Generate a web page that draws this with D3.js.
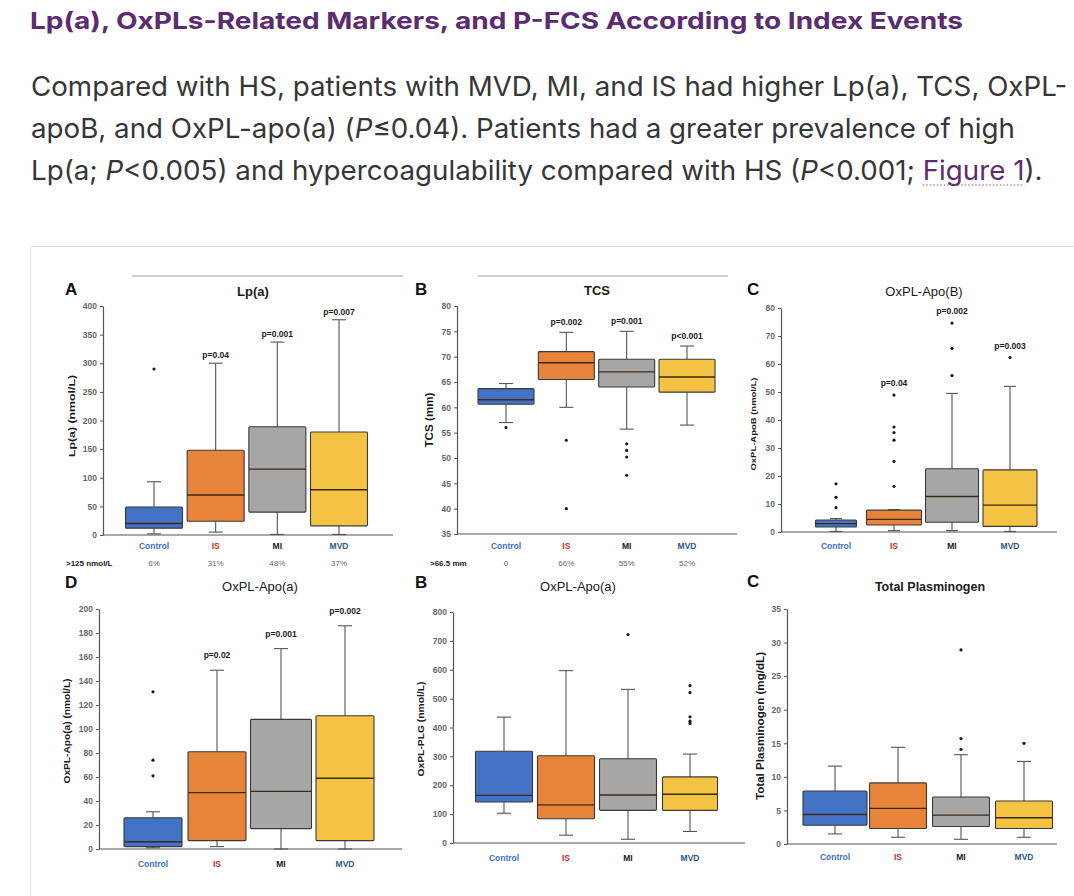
<!DOCTYPE html>
<html><head><meta charset="utf-8">
<script src="https://cdn.jsdelivr.net/npm/d3@7"></script>
<style>html,body{margin:0;padding:0;background:#fff;overflow:hidden}</style>
</head><body>
<svg id="chart" width="1074" height="896"></svg>
<script>
// ---------------- DATA ----------------
const categories = ["Control", "IS", "MI", "MVD"];

// Lp(a): [low whisker, Q1, median, Q3, high whisker]
const lpaTicks = [0, 50, 100, 150, 200, 250, 300, 350, 400];
const lpaStats = [[2, 12, 20, 49, 93], [5, 24, 70, 148, 300], [1, 40, 115, 189, 337], [1, 16, 79, 180, 376]];
const lpaOutliers = [[290], [], [], []];
const lpaP = ["", "p=0.04", "p=0.001", "p=0.007"];
const lpaPct = ["6%", "31%", "48%", "37%"];

// TCS
const tcsTicks = [35, 40, 45, 50, 55, 60, 65, 70, 75, 80];
const tcsStats = [[57, 60.6, 61.5, 63.7, 64.7], [60, 65.5, 68.8, 71, 74.8], [55.7, 64, 67, 69.5, 75], [56.5, 63, 66, 69.5, 72.1]];
const tcsOutliers = [[56], [53.5, 40], [52.8, 51.5, 50.2, 46.6], []];
const tcsP = ["", "p=0.002", "p=0.001", "p<0.001"];
const tcsPct = ["0", "66%", "55%", "52%"];

// OxPL-ApoB
const apobTicks = [0, 10, 20, 30, 40, 50, 60, 70, 80];
const apobStats = [[0.2, 1.8, 3, 4.3, 4.8], [0.5, 2.5, 4.5, 7.8, 8], [0.5, 3.5, 12.7, 22.6, 49.5], [0.2, 2, 9.6, 22.2, 52]];
const apobOutliers = [[8.7, 12.4, 17.2], [16.3, 25.2, 32.8, 35.5, 37.5, 48.9], [55.9, 65.6, 74.6], [62.3]];
const apobP = ["", "p=0.04", "p=0.002", "p=0.003"];

// OxPL-Apo(a)
const apoaTicks = [0, 20, 40, 60, 80, 100, 120, 140, 160, 180, 200];
const apoaStats = [[1, 2, 6, 26, 31], [2, 7, 47, 81, 149], [0, 17, 48, 108, 167], [0, 7, 59, 111, 186]];
const apoaOutliers = [[61, 74, 131], [], [], []];
const apoaP = ["", "p=0.02", "p=0.001", "p=0.002"];

// OxPL-PLG
const plgTicks = [0, 100, 200, 300, 400, 500, 600, 700, 800];
const plgStats = [[103, 142, 165, 318, 436], [27, 84, 132, 302, 597], [13, 113, 166, 292, 532], [40, 113, 169, 229, 308]];
const plgOutliers = [[], [], [722], [414, 422, 437, 521, 545]];
const plgP = ["", "", "", ""];

// Total Plasminogen
const tpTicks = [0, 5, 10, 15, 20, 25, 30, 35];
const tpStats = [[1.5, 2.8, 4.4, 7.9, 11.6], [1, 2.3, 5.3, 9.1, 14.4], [0.7, 2.6, 4.3, 7, 13.3], [1, 2.3, 3.9, 6.4, 12.3]];
const tpOutliers = [[], [], [14.1, 15.7, 28.9], [15]];
const tpP = ["", "", "", ""];

// ---------------- TEXT ----------------
const headingText = "Lp(a), OxPLs-Related Markers, and P-FCS According to Index Events";
const paraLines = [
  [["Compared with HS, patients with MVD, MI, and IS had higher Lp(a), TCS, OxPL-", "n"]],
  [["apoB, and OxPL-apo(a) (", "n"], ["P", "i"], ["≤0.04). Patients had a greater prevalence of high", "n"]],
  [["Lp(a; ", "n"], ["P", "i"], ["<0.005) and hypercoagulability compared with HS (", "n"], ["P", "i"], ["<0.001; ", "n"], ["Figure 1", "l"], [").", "n"]]
];

// ---------------- STYLE ----------------
const fillColors = ["#4472C4", "#E8833A", "#A6A6A6", "#F5C343"];
const catColors = ["#3F6FC6", "#C8312B", "#1a1a1a", "#2D5A86"];
const FONT = "'Liberation Sans', Arial, sans-serif";

const svg = d3.select("#chart");

// header
const heading = svg.append("text").attr("x", 30).attr("y", 29)
  .attr("font-family", "Inter, 'Noto Sans', sans-serif").attr("font-weight", 700)
  .attr("font-size", 23.5).attr("fill", "#5B2C6F").text(headingText);
heading.attr("textLength", 933).attr("lengthAdjust", "spacingAndGlyphs");

const paraBase = [96, 138, 180];
const paraNodes = paraLines.map((line, i) => {
  const t = svg.append("text").attr("x", 31).attr("y", paraBase[i])
    .attr("font-family", "Inter, 'Noto Sans', sans-serif").attr("font-size", 27).attr("fill", "#363636");
  line.forEach(([s, k]) => {
    const ts = t.append("tspan").text(s);
    if (k === "i") ts.attr("font-style", "italic");
    if (k === "l") ts.attr("fill", "#5B2C6F").attr("class", "lnk");
  });
  return t;
});
// fit widths
const w2 = paraNodes[1].node().getComputedTextLength();
const ratio = 984 / w2;
paraNodes.forEach((t, i) => {
  const w = t.node().getComputedTextLength();
  t.attr("textLength", w * ratio).attr("lengthAdjust", "spacingAndGlyphs");
});
// dotted underline for link
(function () {
  const ln = paraNodes[2].select(".lnk").node();
  try {
    const n = ln.getNumberOfChars();
    const s = ln.getStartPositionOfChar(0).x;
    const e = ln.getEndPositionOfChar(n - 1).x;
    svg.append("line").attr("x1", s).attr("x2", e).attr("y1", 185).attr("y2", 185)
      .attr("stroke", "#7a5a8a").attr("stroke-width", 1.2).attr("stroke-dasharray", "1.5,2");
  } catch (err) {}
})();

// figure container
svg.append("rect").attr("x", 30.5).attr("y", 246.5).attr("width", 1100).attr("height", 700)
  .attr("fill", "#fff").attr("stroke", "#e6e6e6").attr("stroke-width", 1);

const panels = [
  { letter: "A", lx: 65, ly: 295, title: "Lp(a)", tx: 253, ty: 296, tsize: 13, tweight: 700,
    ylabel: "Lp(a) (nmol/L)", ylx: 72.5, yly: 416, ylsize: 9.5, yllen: 82,
    ax: 103, axEnd: 393, yr: [535, 306], dom: [0, 400], pts: [154, 339], boxW: [57, 57, 57, 57], capW: 14,
    catY: 547, pOff: 5, ticks: lpaTicks, stats: lpaStats, out: lpaOutliers, p: lpaP,
    rowLabel: ">125 nmol/L", rowX: 66, rowY: 564, pct: lpaPct, topLine: [132, 403, 276] },
  { letter: "B", lx: 415, ly: 295, title: "TCS", tx: 597, ty: 295, tsize: 13, tweight: 700,
    ylabel: "TCS (mm)", ylx: 430, yly: 420, ylsize: 10, yllen: 55,
    ax: 457, axEnd: 737, yr: [534, 306], dom: [35, 80], pts: [506, 687], boxW: [56, 56, 56, 56], capW: 14,
    catY: 547, pOff: 7, ticks: tcsTicks, stats: tcsStats, out: tcsOutliers, p: tcsP,
    rowLabel: ">66.5 mm", rowX: 430, rowY: 564, pct: tcsPct, topLine: [478, 728, 276] },
  { letter: "C", lx: 747, ly: 295, title: "OxPL-Apo(B)", tx: 924, ty: 296, tsize: 13, tweight: 500,
    ylabel: "OxPL-ApoB (nmol/L)", ylx: 754, yly: 424, ylsize: 8, yllen: 93,
    ax: 781, axEnd: 1057, yr: [532, 308], dom: [0, 80], pts: [836, 1010], boxW: [41, 55, 53, 54], capW: 12,
    catY: 547, pOff: 9, ticks: apobTicks, stats: apobStats, out: apobOutliers, p: apobP },
  { letter: "D", lx: 65, ly: 588, title: "OxPL-Apo(a)", tx: 260, ty: 591, tsize: 13, tweight: 500,
    ylabel: "OxPL-Apo(a) (nmol/L)", ylx: 68, yly: 731, ylsize: 8.5, yllen: 105,
    ax: 99, axEnd: 402, yr: [849, 609], dom: [0, 200], pts: [153, 345], boxW: [58, 58, 61, 58], capW: 14,
    catY: 865, pOff: 12, ticks: apoaTicks, stats: apoaStats, out: apoaOutliers, p: apoaP },
  { letter: "B", lx: 415, ly: 588, title: "OxPL-Apo(a)", tx: 578, ty: 591, tsize: 13, tweight: 500,
    ylabel: "OxPL-PLG (nmol/L)", ylx: 422, yly: 729, ylsize: 8.5, yllen: 95,
    ax: 453, axEnd: 745, yr: [843, 612], dom: [0, 800], pts: [504, 690], boxW: [57, 57, 57, 55], capW: 14,
    catY: 859, pOff: 8, ticks: plgTicks, stats: plgStats, out: plgOutliers, p: plgP },
  { letter: "C", lx: 747, ly: 587, title: "Total Plasminogen", tx: 930, ty: 591, tsize: 12.5, tweight: 700,
    ylabel: "Total Plasminogen (mg/dL)", ylx: 761, yly: 726, ylsize: 11, yllen: 148,
    ax: 787, axEnd: 1057, yr: [844, 609], dom: [0, 35], pts: [835, 1024], boxW: [64, 57, 57, 57], capW: 14,
    catY: 858, pOff: 8, ticks: tpTicks, stats: tpStats, out: tpOutliers, p: tpP }
];

function drawPanel(cfg) {
  const g = svg.append("g").attr("font-family", FONT);
  const y = d3.scaleLinear().domain(cfg.dom).range(cfg.yr);
  const x = d3.scalePoint().domain(categories).range(cfg.pts);

  if (cfg.topLine) {
    g.append("line").attr("x1", cfg.topLine[0]).attr("x2", cfg.topLine[1])
      .attr("y1", cfg.topLine[2]).attr("y2", cfg.topLine[2]).attr("stroke", "#a0a0a0").attr("stroke-width", 1);
  }
  g.append("text").attr("x", cfg.lx).attr("y", cfg.ly).attr("font-size", 17).attr("font-weight", 700)
    .attr("fill", "#111").text(cfg.letter);
  g.append("text").attr("x", cfg.tx).attr("y", cfg.ty).attr("text-anchor", "middle")
    .attr("font-size", cfg.tsize).attr("font-weight", cfg.tweight).attr("fill", "#1a1a1a").text(cfg.title);

  // y axis
  const axis = d3.axisLeft(y).tickValues(cfg.ticks).tickSize(3).tickSizeOuter(0).tickPadding(3);
  const ag = g.append("g").attr("transform", `translate(${cfg.ax},0)`).call(axis);
  ag.select(".domain").attr("stroke", "#555").attr("stroke-width", 1.2);
  ag.selectAll(".tick line").attr("stroke", "#555");
  ag.selectAll(".tick text").attr("font-size", 8.5).attr("font-weight", 700).attr("fill", "#666")
    .attr("font-family", FONT);

  // x axis line
  g.append("line").attr("x1", cfg.ax).attr("x2", cfg.axEnd).attr("y1", y(cfg.dom[0])).attr("y2", y(cfg.dom[0]))
    .attr("stroke", "#555").attr("stroke-width", 1.2);

  // y label
  g.append("text").attr("transform", `translate(${cfg.ylx},${cfg.yly}) rotate(-90)`)
    .attr("text-anchor", "middle").attr("dominant-baseline", "middle")
    .attr("font-size", cfg.ylsize).attr("font-weight", 700).attr("fill", "#1a1a1a")
    .attr("textLength", cfg.yllen).attr("lengthAdjust", "spacingAndGlyphs").text(cfg.ylabel);

  categories.forEach((c, i) => {
    const [lo, q1, md, q3, hi] = cfg.stats[i];
    const cx = x(c), w = cfg.boxW[i], cw = cfg.capW;
    const wg = g.append("g").attr("stroke", "#555").attr("stroke-width", 1.1);
    wg.append("line").attr("x1", cx).attr("x2", cx).attr("y1", y(lo)).attr("y2", y(q1));
    wg.append("line").attr("x1", cx).attr("x2", cx).attr("y1", y(q3)).attr("y2", y(hi));
    wg.append("line").attr("x1", cx - cw / 2).attr("x2", cx + cw / 2).attr("y1", y(lo)).attr("y2", y(lo));
    wg.append("line").attr("x1", cx - cw / 2).attr("x2", cx + cw / 2).attr("y1", y(hi)).attr("y2", y(hi));
    g.append("rect").attr("x", cx - w / 2).attr("y", y(q3)).attr("width", w).attr("height", y(q1) - y(q3))
      .attr("fill", fillColors[i]).attr("stroke", "#3a3a3a").attr("stroke-width", 1.1).attr("rx", 1);
    g.append("line").attr("x1", cx - w / 2).attr("x2", cx + w / 2).attr("y1", y(md)).attr("y2", y(md))
      .attr("stroke", "#3a2a1a").attr("stroke-width", 1.4);
    cfg.out[i].forEach(v => {
      g.append("circle").attr("cx", cx).attr("cy", y(v)).attr("r", 1.6).attr("fill", "#1a1a1a");
    });
    if (cfg.p[i]) {
      const top = Math.max(hi, ...cfg.out[i]);
      g.append("text").attr("x", cx).attr("y", y(top) - cfg.pOff).attr("text-anchor", "middle")
        .attr("font-size", 8.5).attr("font-weight", 700).attr("fill", "#1a1a1a").text(cfg.p[i]);
    }
    g.append("text").attr("x", cx).attr("y", cfg.catY).attr("text-anchor", "middle").attr("dominant-baseline", "middle")
      .attr("font-size", 8.5).attr("font-weight", 700).attr("fill", catColors[i]).text(c);
    if (cfg.pct) {
      g.append("text").attr("x", cx).attr("y", cfg.rowY).attr("text-anchor", "middle").attr("dominant-baseline", "middle")
        .attr("font-size", 8).attr("fill", "#666").text(cfg.pct[i]);
    }
  });
  if (cfg.rowLabel) {
    g.append("text").attr("x", cfg.rowX).attr("y", cfg.rowY).attr("dominant-baseline", "middle")
      .attr("font-size", 8).attr("font-weight", 700).attr("fill", "#1a1a1a").text(cfg.rowLabel);
  }
}
panels.forEach(drawPanel);
</script>
</body></html>
